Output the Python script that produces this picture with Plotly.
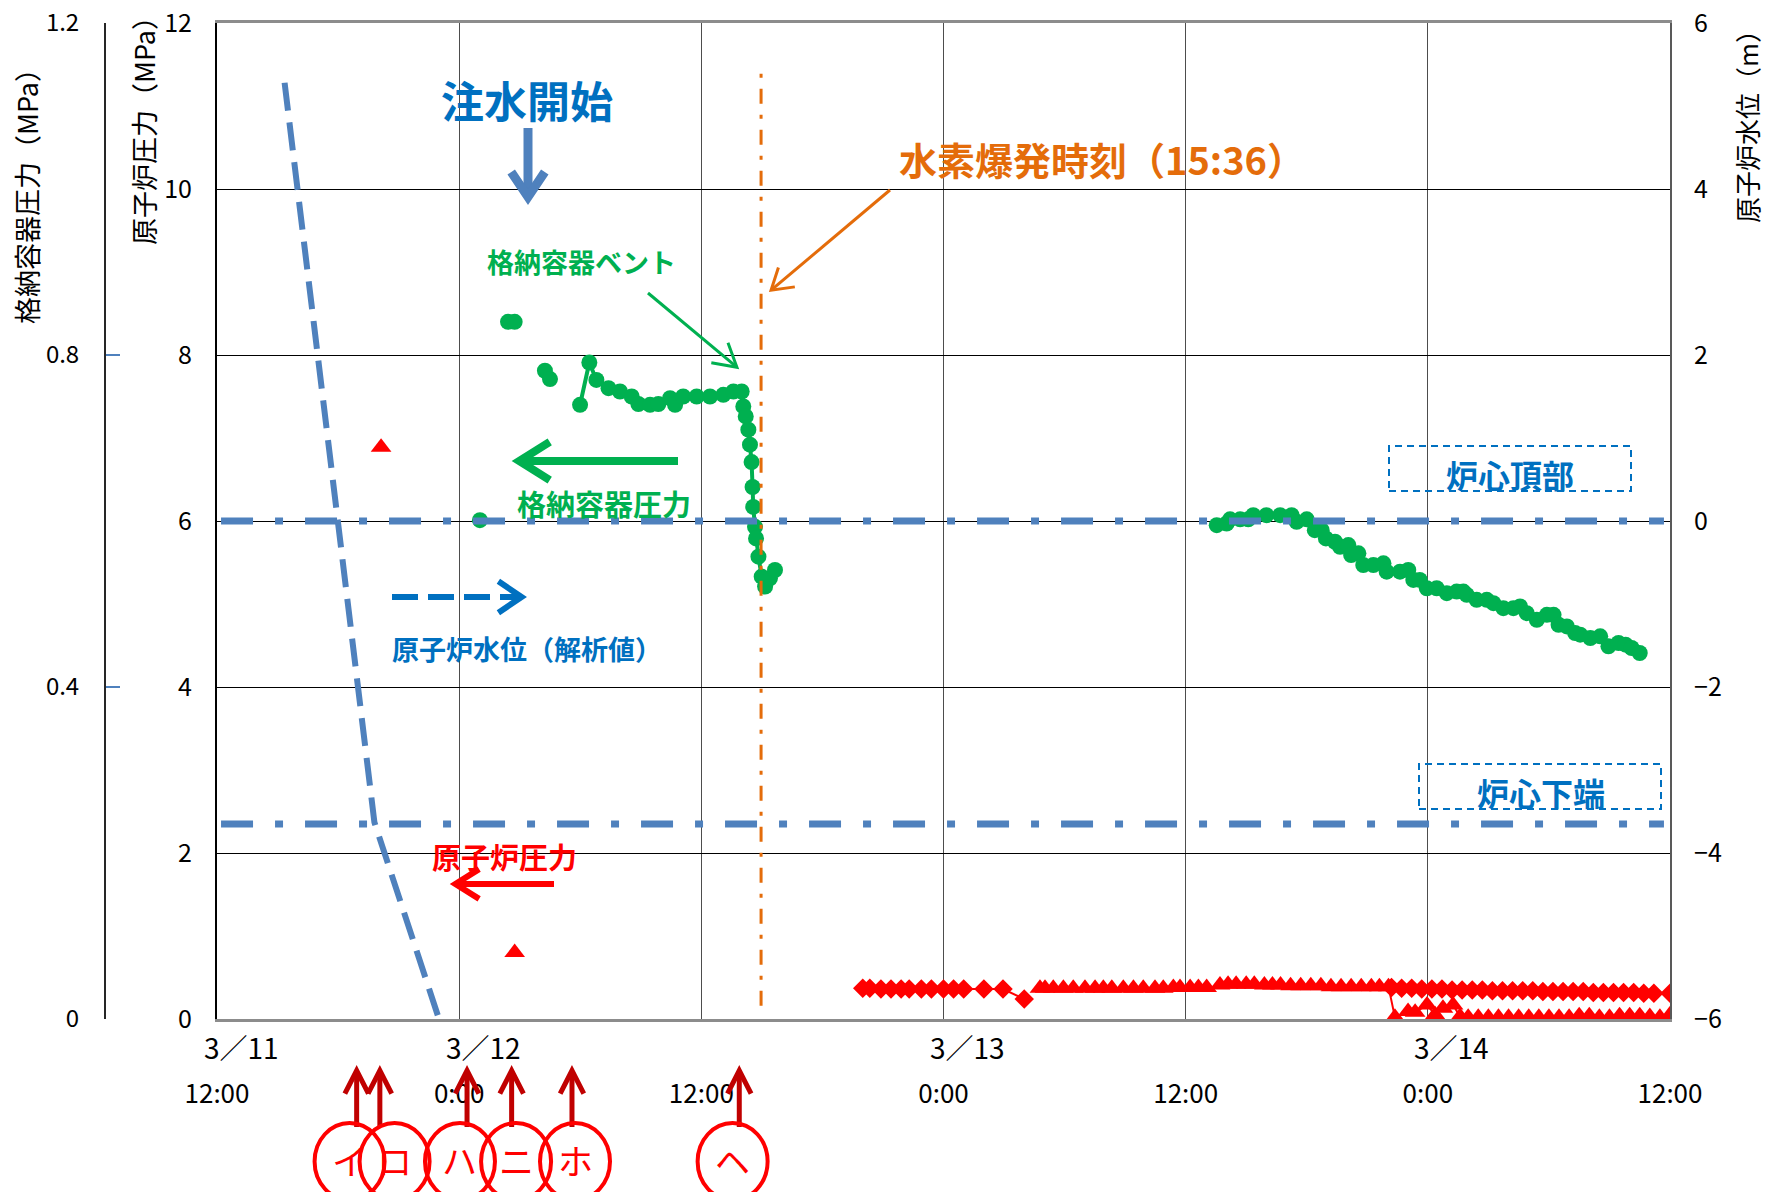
import math
import plotly.graph_objects as go

FONT = "Noto Sans CJK JP"

# ---------------- data (x = hours counted from 3/11 0:00) ----------------
tick_hours = [12, 24, 36, 48, 60, 72, 84]
time_labels = ["12:00", "0:00", "12:00", "0:00", "12:00", "0:00", "12:00"]
date_hours = [12, 24, 48, 72]
date_labels = ["3／11", "3／12", "3／13", "3／14"]

# reactor water level, analysis (m)
wl_calc_t = [15.35, 19.8, 23.0]
wl_calc_v = [5.28, -3.63, -6.0]
# top of active fuel / bottom of active fuel (m)
taf_t = [12.2, 83.7]
taf_v = [0.0, 0.0]
baf_t = [12.2, 83.7]
baf_v = [-3.65, -3.65]

# containment (D/W) pressure (MPa)
cp_t = [25.03, None,
        26.42, 26.75, None,
        28.25, 28.5, None,
        29.99, 30.45, 30.8, 31.4, 31.97, 32.55, 32.88, 33.46, 33.87, 34.45, 34.7,
        35.1, 35.77, 36.43, 37.09, 37.59, 38.0, 38.08, 38.2, 38.33, 38.41, 38.49,
        38.54, 38.57, 38.66, 38.71, 38.83, 38.99, 39.16, 39.40, 39.65, None,
        61.54, 62.03, 62.2, 62.7, 63.1, 63.35, 64.0, 64.68, 65.25, 65.5,
        66.0, 66.4, 66.74, 66.95, 67.4, 67.65, 68.06, 68.2, 68.56, 68.8,
        69.3, 69.8, 69.96, 70.62, 71.03, 71.28, 71.6, 71.95, 72.44, 72.94,
        73.43, 73.76, 73.93, 74.42, 74.92, 75.25, 75.74, 76.24, 76.57, 76.9,
        77.4, 77.9, 78.23, 78.48, 78.89, 79.3, 79.55, 80.05, 80.54, 80.95,
        81.45, 81.8, 82.1, 82.5]
cp_v = [0.601, None,
        0.840, 0.840, None,
        0.781, 0.771, None,
        0.740, 0.791, 0.770, 0.760, 0.756, 0.750, 0.741, 0.740, 0.741, 0.748, 0.740,
        0.750, 0.750, 0.750, 0.752, 0.756, 0.756, 0.738, 0.726, 0.710, 0.692, 0.671,
        0.641, 0.617, 0.593, 0.579, 0.557, 0.533, 0.521, 0.531, 0.541, None,
        0.595, 0.597, 0.602, 0.602, 0.602, 0.607, 0.607, 0.607, 0.607, 0.599,
        0.602, 0.589, 0.589, 0.579, 0.575, 0.569, 0.571, 0.559, 0.561, 0.547,
        0.547, 0.549, 0.539, 0.539, 0.541, 0.529, 0.529, 0.519, 0.519, 0.513,
        0.515, 0.515, 0.511, 0.505, 0.505, 0.501, 0.495, 0.495, 0.497, 0.489,
        0.481, 0.487, 0.487, 0.475, 0.473, 0.465, 0.463, 0.459, 0.461, 0.449,
        0.453, 0.451, 0.447, 0.441]

# reactor pressure, diamonds (MPa)
rp_d_t = [44.0, 44.35, 44.9, 45.4, 45.9, 46.3, 46.9, 47.4, 48.0, 48.5, 49.0, 50.0, 50.95, 52.0, None,
          70.2, 70.7, 71.2, 71.7, 72.2, 72.7, 73.2, 73.7, 74.2, 74.7, 75.2, 75.7, 76.2, 76.7,
          77.2, 77.7, 78.2, 78.7, 79.2, 79.7, 80.2, 80.7, 81.2, 81.7, 82.2, 82.7, 83.2, 84.0]
rp_d_v = [0.37, 0.37, 0.36, 0.36, 0.36, 0.36, 0.36, 0.36, 0.36, 0.36, 0.36, 0.36, 0.36, 0.24, None,
          0.38, 0.37, 0.37, 0.36, 0.36, 0.36, 0.35, 0.35, 0.35, 0.35, 0.34, 0.34, 0.34, 0.34,
          0.34, 0.33, 0.33, 0.33, 0.33, 0.33, 0.32, 0.32, 0.32, 0.32, 0.32, 0.31, 0.31, 0.31]

# reactor pressure, triangles (MPa)
rp_t_t = [20.13, None, 26.75, None,
          52.78, 53.03, 53.44, 53.94, 54.43, 55.01, 55.51, 55.92, 56.34, 56.91, 57.41, 57.90,
          58.48, 58.89, 59.39, 59.72, 60.22, 60.63, 61.04, None,
          61.7, 62.1, 62.5, 63.0, 63.4, 63.9, 64.3, 64.7, 65.2, 65.7, 66.2, 66.7, 67.2, 67.7,
          68.2, 68.7, 69.2, 69.6, None,
          70.05, 70.37, 71.02, 71.37, 71.96, 72.36, 72.75, 73.25, 73.6, 74.0, 74.5, 75.0, 75.5,
          76.0, 76.5, 77.0, 77.5, 78.0, 78.5, 79.0, 79.5, 80.0, 80.5, 81.0, 81.5, 82.0, 82.5,
          83.0, 83.5, 84.0]
rp_t_v = [6.89, None, 0.80, None,
          0.37, 0.37, 0.37, 0.37, 0.37, 0.37, 0.37, 0.37, 0.37, 0.37, 0.37, 0.37,
          0.37, 0.37, 0.38, 0.38, 0.38, 0.38, 0.38, None,
          0.41, 0.42, 0.42, 0.42, 0.42, 0.41, 0.41, 0.41, 0.40, 0.40, 0.40, 0.40, 0.39, 0.39,
          0.39, 0.39, 0.39, 0.39, None,
          0.39, 0.02, 0.09, 0.08, 0.17, 0.05, 0.13, 0.17, 0.03, 0.02, 0.02, 0.02, 0.02,
          0.02, 0.02, 0.02, 0.02, 0.02, 0.02, 0.02, 0.04, 0.04, 0.02, 0.02, 0.04, 0.04, 0.04,
          0.03, 0.02, 0.05]

explosion_h = 38.96
event_arrow_h = [18.92, 20.07, 24.39, 26.60, 29.59, 37.88]
event_circle_h = [18.57, 20.80, 24.04, 26.82, 29.74, 37.55]
event_labels = ["イ", "ロ", "ハ", "ニ", "ホ", "ヘ"]

# ---------------- geometry helpers (reference pixels -> paper) ----------------
L_PAD, R_EDGE, T_EDGE, B_EDGE = 20, 1670, 23, 1019
X0 = 217
PW = R_EDGE - L_PAD
PH = B_EDGE - T_EDGE
FIG_W, FIG_H = 1766, 1192


def px(X):
    return (X - L_PAD) / PW


def py(Y):
    return (B_EDGE - Y) / PH


def hx(h):
    return X0 + (h - 12) * (R_EDGE - X0) / 72.0


shapes = []


def arrow(x0, y0, x1, y1, color, width, head=22, ang=32, dash=None):
    dx, dy = x1 - x0, y1 - y0
    L = math.hypot(dx, dy)
    ux, uy = dx / L, dy / L
    back = width * 0.9
    tx, ty = x1 - ux * back, y1 - uy * back
    shapes.append(dict(type="line", xref="paper", yref="paper",
                       x0=px(x0), y0=py(y0), x1=px(tx - ux * width * 0.3), y1=py(ty - uy * width * 0.3),
                       line=dict(color=color, width=width, dash=dash or "solid")))
    arms = []
    for s in (1, -1):
        a = math.radians(ang * s)
        bx, by = -ux, -uy
        rx = bx * math.cos(a) - by * math.sin(a)
        ry = bx * math.sin(a) + by * math.cos(a)
        arms.append((tx + rx * head, ty + ry * head))
    path = "M {:.5f},{:.5f} L {:.5f},{:.5f} L {:.5f},{:.5f}".format(
        px(arms[0][0]), py(arms[0][1]), px(tx), py(ty), px(arms[1][0]), py(arms[1][1]))
    shapes.append(dict(type="path", xref="paper", yref="paper", path=path,
                       line=dict(color=color, width=width)))


fig = go.Figure()

# reactor pressure (primary left axis)
fig.add_trace(go.Scatter(x=rp_t_t, y=rp_t_v, mode="lines+markers", yaxis="y",
                         line=dict(color="#FF0000", width=2),
                         marker=dict(symbol="triangle-up", size=18, color="#FF0000"),
                         showlegend=False, name="原子炉圧力"))
fig.add_trace(go.Scatter(x=rp_d_t, y=rp_d_v, mode="lines+markers", yaxis="y",
                         line=dict(color="#FF0000", width=2),
                         marker=dict(symbol="diamond", size=15, color="#FF0000"),
                         showlegend=False, name="原子炉圧力"))
# containment pressure
fig.add_trace(go.Scatter(x=cp_t, y=cp_v, mode="lines+markers", yaxis="y2",
                         line=dict(color="#00B050", width=4),
                         marker=dict(symbol="circle", size=16, color="#00B050"),
                         showlegend=False, name="格納容器圧力"))
# water levels
fig.add_trace(go.Scatter(x=taf_t, y=taf_v, mode="lines", yaxis="y3",
                         line=dict(color="#4F81BD", width=7, dash="32px,22px,8px,22px"),
                         showlegend=False, name="炉心頂部"))
fig.add_trace(go.Scatter(x=baf_t, y=baf_v, mode="lines", yaxis="y3",
                         line=dict(color="#4F81BD", width=7, dash="32px,22px,8px,22px"),
                         showlegend=False, name="炉心下端"))
fig.add_trace(go.Scatter(x=wl_calc_t, y=wl_calc_v, mode="lines", yaxis="y3",
                         line=dict(color="#4F81BD", width=6, dash="28px,12px"),
                         showlegend=False, name="原子炉水位（解析値）"))

# explosion time line
shapes.append(dict(type="line", xref="x", yref="y", x0=explosion_h, x1=explosion_h,
                   y0=0.16, y1=11.43, layer="above",
                   line=dict(color="#E46C0A", width=3, dash="15px,11px,4px,11px")))

annotations = []


def text(X, Y, s, size, color, bold=True, angle=0):
    annotations.append(dict(xref="paper", yref="paper", x=px(X), y=py(Y), text=s,
                            showarrow=False, textangle=angle, xanchor="center", yanchor="middle",
                            font=dict(family=FONT, size=size, color=color,
                                      weight="bold" if bold else "normal")))


# in-plot labels
text(527, 99, "注水開始", 43, "#0070C0")
arrow(528, 128, 528, 205, "#4F81BD", 9, head=30, ang=34)

text(1102, 158, "水素爆発時刻（15:36）", 38, "#E46C0A")
arrow(890, 190, 769, 292, "#E46C0A", 3, head=24, ang=32)

text(581, 261, "格納容器ベント", 27, "#00B050")
arrow(648, 293, 739, 369, "#00B050", 3, head=26, ang=30)

text(604, 503, "格納容器圧力", 29, "#00B050")
arrow(678, 461, 512, 461, "#00B050", 8, head=36, ang=32)

text(527, 648, "原子炉水位（解析値）", 27, "#0070C0")
arrow(392, 597, 527, 597, "#0070C0", 6, head=28, ang=34, dash="26px,10px")

text(504, 856, "原子炉圧力", 29, "#FF0000")
arrow(554, 884, 450, 884, "#FF0000", 6, head=28, ang=32)

# core top / bottom boxes
for (bx0, by0, bx1, by1, label, tx, ty) in [(1389, 446, 1631, 491, "炉心頂部", 1510, 474),
                                            (1419, 764, 1661, 809, "炉心下端", 1541, 792)]:
    shapes.append(dict(type="rect", xref="paper", yref="paper", x0=px(bx0), x1=px(bx1),
                       y0=py(by1), y1=py(by0), line=dict(color="#0070C0", width=2, dash="7px,5px")))
    text(tx, ty, label, 32, "#0070C0")

# event markers below the axis
for h in event_arrow_h:
    X = hx(h)
    arrow(X, 1127, X, 1066, "#C00000", 5, head=26, ang=27)
for h, lab in zip(event_circle_h, event_labels):
    X = hx(h)
    shapes.append(dict(type="circle", xref="paper", yref="paper", x0=px(X - 35), x1=px(X + 35),
                       y0=py(1200), y1=py(1123), line=dict(color="#FF0000", width=4)))
    text(X, 1159, lab, 35, "#FF0000", bold=False)

# date labels
for h, lab in zip(date_hours, date_labels):
    annotations.append(dict(xref="x", yref="paper", x=h, y=py(1047), xshift=24, text=lab,
                            showarrow=False, xanchor="center", yanchor="middle",
                            font=dict(family=FONT, size=28, color="black")))

# axis titles
text(27, 190, "格納容器圧力（MPa）", 27, "black", bold=False, angle=-90)
text(143, 124, "原子炉圧力（MPa）", 27, "black", bold=False, angle=-90)
text(1747, 120, "原子炉水位（m）", 26, "black", bold=False, angle=-90)

fig.update_layout(
    width=FIG_W, height=FIG_H,
    margin=dict(l=L_PAD, r=FIG_W - R_EDGE, t=T_EDGE, b=FIG_H - B_EDGE, pad=0, autoexpand=False),
    paper_bgcolor="white", plot_bgcolor="white",
    font=dict(family=FONT, color="black"),
    xaxis=dict(domain=[px(X0), 1], range=[12, 84], tickvals=tick_hours, ticktext=time_labels,
               showgrid=True, gridcolor="#4d4d4d", gridwidth=1, showline=True, automargin=False,
               linecolor="#8c8c8c", linewidth=3, mirror=True, ticks="", zeroline=False,
               ticklabeloverflow="allow",
               tickfont=dict(family=FONT, size=26, color="black"), ticklabelstandoff=50),
    yaxis=dict(range=[0, 12], tickvals=[0, 2, 4, 6, 8, 10, 12], showgrid=True, gridcolor="black",
               gridwidth=1, showline=True, linecolor="black", linewidth=2, ticks="",
               automargin=False, zeroline=False, ticklabeloverflow="allow",
               tickfont=dict(family=FONT, size=25, color="black"), ticklabelstandoff=18),
    yaxis2=dict(overlaying="y", anchor="free", position=px(105), side="left", range=[0, 1.2],
                tickvals=[0, 0.4, 0.8, 1.2], ticktext=["0", "0.4", "0.8", "1.2"], ticks="inside",
                ticklen=14, tickwidth=2, tickcolor="#4F81BD", showline=True, linecolor="#262626",
                linewidth=2, showgrid=False, zeroline=False, automargin=False, autoshift=False,
                ticklabeloverflow="allow",
                tickfont=dict(family=FONT, size=24, color="black"), ticklabelstandoff=20),
    yaxis3=dict(overlaying="y", side="right", anchor="x", range=[-6, 6],
                tickvals=[-6, -4, -2, 0, 2, 4, 6], showline=True, linecolor="#595959", linewidth=2,
                showgrid=False, zeroline=False, ticks="", automargin=False,
                ticklabeloverflow="allow",
                tickfont=dict(family=FONT, size=25, color="black"), ticklabelstandoff=17),
    shapes=shapes,
    annotations=annotations,
)

# remove the default 8px page margin so the figure fills the window exactly
fig.write_html("out.html", config={"displayModeBar": False},
               post_script="document.body.style.margin='0';document.body.style.overflow='hidden';")
